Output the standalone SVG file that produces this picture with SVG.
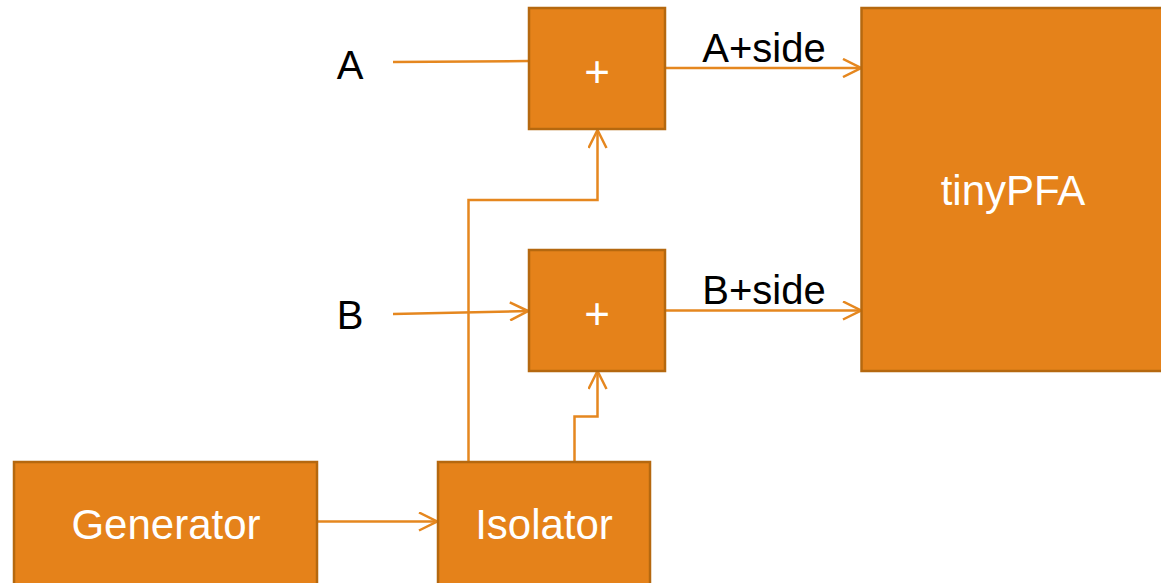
<svg xmlns="http://www.w3.org/2000/svg" width="1161" height="583" viewBox="0 0 1161 583">
<style>
.box{fill:#E5821A;stroke:#B5680F;stroke-width:2.5}
.wt{fill:#FFFFFF;font-family:"Liberation Sans",Arial,sans-serif;font-size:42px;text-anchor:middle}
.pl{font-size:44px}
.bt{fill:#000000;font-family:"Liberation Sans",Arial,sans-serif;font-size:40px;text-anchor:middle}
.ln{fill:none;stroke:#E5871F;stroke-width:2.5}
</style>
<defs>
<marker id="arr" viewBox="0 0 20 20" refX="19" refY="10" markerWidth="20" markerHeight="20" markerUnits="userSpaceOnUse" orient="auto">
<path d="M1,1 L19,10 L1,19" fill="none" stroke="#E5871F" stroke-width="2.5"/>
</marker>
</defs>
<g id="connectors">
<path class="ln" d="M393,62 L529,61"/>
<path class="ln" d="M393,314 L528,311" marker-end="url(#arr)"/>
<path class="ln" d="M666,68 L861,68" marker-end="url(#arr)"/>
<path class="ln" d="M666,310.5 L861,310.5" marker-end="url(#arr)"/>
<path class="ln" d="M468.5,462 L468.5,200 L597.5,200 L597.5,130" marker-end="url(#arr)"/>
<path class="ln" d="M574.5,462 L574.5,416.5 L597.5,416.5 L597.5,371" marker-end="url(#arr)"/>
<path class="ln" d="M318,521.5 L437,521.5" marker-end="url(#arr)"/>
</g>
<g id="label-A"><text class="bt" x="350" y="79">A</text></g>
<g id="label-B"><text class="bt" x="350" y="329">B</text></g>
<g id="label-Aside"><text class="bt" x="764" y="62">A+side</text></g>
<g id="label-Bside"><text class="bt" x="764" y="304">B+side</text></g>
<g id="plus-top"><rect class="box" x="529" y="8" width="136" height="121"/><text class="wt pl" x="597" y="87">+</text></g>
<g id="plus-bottom"><rect class="box" x="529" y="250" width="136" height="121"/><text class="wt pl" x="597" y="329">+</text></g>
<g id="tinyPFA"><rect class="box" x="861.5" y="8" width="310" height="363"/><text class="wt" x="1013" y="205">tinyPFA</text></g>
<g id="generator"><rect class="box" x="14" y="462" width="303" height="130"/><text class="wt" x="166" y="539">Generator</text></g>
<g id="isolator"><rect class="box" x="438" y="462" width="212" height="130"/><text class="wt" x="544" y="539">Isolator</text></g>
</svg>
